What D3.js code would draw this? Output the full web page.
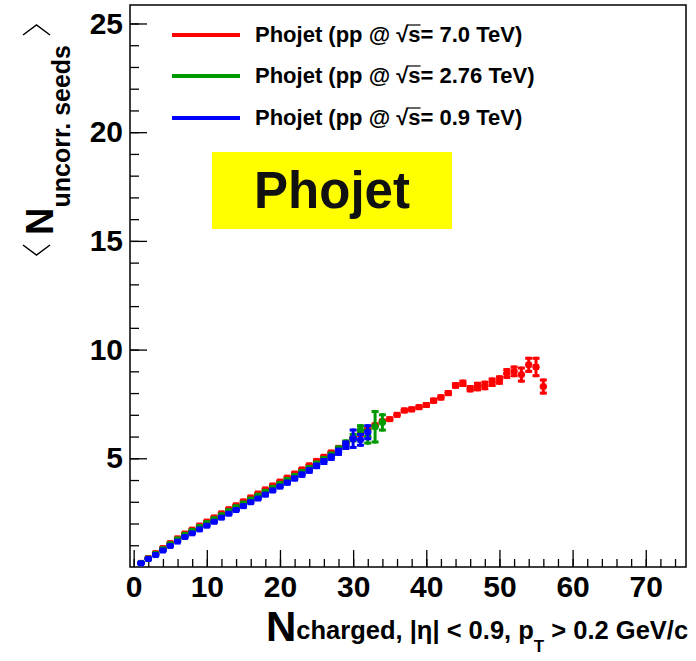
<!DOCTYPE html>
<html>
<head>
<meta charset="utf-8">
<title>Phojet seeds vs Nch</title>
<script src="https://d3js.org/d3.v7.min.js" charset="utf-8"></script>
<style>
    body { margin: 0; background: white; }
    svg text { font-family: "Liberation Sans", Arial, sans-serif; font-weight: bold; }
</style>
</head>
<body>
<script>
// values, one entry per multiplicity bin, starting at N = firstBin
var firstBin = 1;

var seeds7000 = [0.19,0.41,0.64,0.87,1.10,1.32,1.54,1.72,1.91,2.09,2.28,2.47,2.66,2.84,3.02,3.20,3.38,3.57,3.75,3.93,
                 4.11,4.30,4.49,4.68,4.88,5.07,5.27,5.48,5.70,5.92,6.12,6.35,6.52,6.70,6.80,7.00,7.20,7.25,7.35,7.45,
                 7.65,7.80,8.00,8.35,8.45,8.20,8.30,8.35,8.50,8.60,8.90,9.00,8.85,9.30,9.20,8.30];
var err7000   = [0.02,0.02,0.02,0.02,0.02,0.02,0.02,0.02,0.02,0.02,0.02,0.02,0.02,0.02,0.03,0.03,0.03,0.03,0.03,0.03,
                 0.03,0.03,0.03,0.03,0.04,0.04,0.04,0.04,0.04,0.04,0.05,0.05,0.05,0.05,0.05,0.05,0.06,0.06,0.06,0.06,
                 0.07,0.07,0.07,0.08,0.10,0.10,0.15,0.15,0.15,0.15,0.18,0.20,0.30,0.30,0.40,0.30];

var seeds2760 = [0.18,0.39,0.60,0.82,1.05,1.27,1.48,1.66,1.84,2.02,2.20,2.38,2.57,2.75,2.92,3.10,3.28,3.46,3.64,3.82,
                 4.00,4.18,4.37,4.55,4.75,4.95,5.15,5.40,5.65,5.95,6.30,6.00,6.45,6.65];
var err2760   = [0.02,0.02,0.02,0.02,0.02,0.02,0.02,0.02,0.02,0.03,0.03,0.03,0.03,0.03,0.03,0.04,0.04,0.04,0.05,0.05,
                 0.05,0.06,0.06,0.07,0.07,0.08,0.09,0.12,0.15,0.15,0.20,0.30,0.70,0.35];

var seeds900  = [0.17,0.37,0.55,0.76,0.97,1.17,1.38,1.55,1.73,1.90,2.08,2.27,2.45,2.62,2.80,2.98,3.15,3.33,3.52,3.70,
                 3.88,4.07,4.25,4.44,4.65,4.85,5.05,5.30,5.60,5.90,5.85,6.20];
var err900    = [0.02,0.02,0.02,0.02,0.02,0.02,0.02,0.02,0.03,0.03,0.03,0.03,0.03,0.03,0.04,0.04,0.04,0.05,0.05,0.05,
                 0.06,0.06,0.07,0.08,0.08,0.09,0.10,0.12,0.15,0.40,0.25,0.30];

var seriesNames  = ["Phojet (pp @ ", "Phojet (pp @ ", "Phojet (pp @ "];
var seriesEnergy = ["= 7.0 TeV)", "= 2.76 TeV)", "= 0.9 TeV)"];
var seriesColors = ["#ff0000", "#009a00", "#0000ff"];

var xMajor = [0, 10, 20, 30, 40, 50, 60, 70];
var xMinor = [0,2,4,6,8,10,12,14,16,18,20,22,24,26,28,30,32,34,36,38,40,42,44,46,48,50,52,54,56,58,60,62,64,66,68,70,72,74];
var yMajor = [5, 10, 15, 20, 25];
var yMinor = [1,2,3,4,5,6,7,8,9,10,11,12,13,14,15,16,17,18,19,20,21,22,23,24,25];

var width = 696;
var height = 661;
var frame = {left: 130, right: 686, top: 5, bottom: 567};

var x = d3.scaleLinear().domain([-0.5, 75.5]).range([frame.left, frame.right]);
var y = d3.scaleLinear().domain([0, 25.85]).range([frame.bottom, frame.top]);

var svg = d3.select("body")
    .append("svg")
    .attr("width", width)
    .attr("height", height);

// axes, ticks pointing inside the frame like ROOT
svg.append("g")
    .attr("transform", "translate(0," + frame.bottom + ")")
    .call(d3.axisBottom(x).tickValues(xMajor).tickSizeInner(-17).tickSizeOuter(0).tickPadding(9));
svg.append("g")
    .attr("transform", "translate(0," + frame.bottom + ")")
    .call(d3.axisBottom(x).tickValues(xMinor).tickSizeInner(-8).tickSizeOuter(0).tickFormat(""));

svg.append("g")
    .attr("transform", "translate(" + frame.left + ",0)")
    .call(d3.axisLeft(y).tickValues(yMajor).tickSizeInner(-17).tickSizeOuter(0).tickPadding(7));
svg.append("g")
    .attr("transform", "translate(" + frame.left + ",0)")
    .call(d3.axisLeft(y).tickValues(yMinor).tickSizeInner(-9).tickSizeOuter(0).tickFormat(""));

svg.selectAll(".domain").remove();
svg.selectAll(".tick line").attr("stroke", "#000").attr("stroke-width", 1.3);
svg.selectAll(".tick text")
    .attr("font-family", '"Liberation Sans", Arial, sans-serif')
    .attr("font-weight", "bold")
    .attr("font-size", 30)
    .attr("fill", "#000");

svg.append("rect")
    .attr("x", frame.left).attr("y", frame.top)
    .attr("width", frame.right - frame.left).attr("height", frame.bottom - frame.top)
    .attr("fill", "none").attr("stroke", "#000").attr("stroke-width", 1.5);

// data points: horizontal bin bar + vertical error bar with small caps + square marker
function drawSeries(vals, errs, color) {
    var pts = vals.map(function(v, i) { return {n: firstBin + i, v: v, e: errs[i]}; });
    var g = svg.append("g").attr("stroke", color).attr("stroke-width", 3).attr("fill", "none");
    g.selectAll("line.hbar").data(pts).enter().append("line")
        .attr("x1", function(d) { return x(d.n - 0.5); })
        .attr("x2", function(d) { return x(d.n + 0.5); })
        .attr("y1", function(d) { return y(d.v); })
        .attr("y2", function(d) { return y(d.v); });
    g.selectAll("line.vbar").data(pts).enter().append("line")
        .attr("x1", function(d) { return x(d.n); })
        .attr("x2", function(d) { return x(d.n); })
        .attr("y1", function(d) { return y(d.v - d.e) + 1.5; })
        .attr("y2", function(d) { return y(d.v + d.e) - 1.5; });
    [1, -1].forEach(function(s) {
        g.selectAll("line.cap" + s).data(pts).enter().append("line")
            .attr("x1", function(d) { return x(d.n) - 3.5; })
            .attr("x2", function(d) { return x(d.n) + 3.5; })
            .attr("y1", function(d) { return y(d.v + s * d.e); })
            .attr("y2", function(d) { return y(d.v + s * d.e); });
    });
    g.selectAll("rect").data(pts).enter().append("rect")
        .attr("x", function(d) { return x(d.n) - 3; })
        .attr("y", function(d) { return y(d.v) - 3; })
        .attr("width", 6).attr("height", 6)
        .attr("stroke", "none").attr("fill", color);
}
drawSeries(seeds7000, err7000, seriesColors[0]);
drawSeries(seeds2760, err2760, seriesColors[1]);
drawSeries(seeds900, err900, seriesColors[2]);

// legend
var legendY = [35, 76, 118];
seriesColors.forEach(function(c, i) {
    svg.append("line")
        .attr("x1", 172).attr("x2", 240)
        .attr("y1", legendY[i]).attr("y2", legendY[i])
        .attr("stroke", c).attr("stroke-width", 4);
    var t = svg.append("text")
        .attr("x", 255).attr("y", legendY[i] + 7)
        .attr("font-size", 22).attr("fill", "#000");
    t.append("tspan").text(seriesNames[i]);
    t.append("tspan").text("√");
    t.append("tspan").attr("class", "rad").text("s");
    t.append("tspan").text(seriesEnergy[i]);
    // overline for the square root
    var sNode = t.select(".rad").node();
    var full = t.node();
    var start = full.getSubStringLength(0, seriesNames[i].length + 1);
    var sw = sNode.getComputedTextLength();
    svg.append("line")
        .attr("x1", 255 + start - 1).attr("x2", 255 + start + sw)
        .attr("y1", legendY[i] - 10).attr("y2", legendY[i] - 10)
        .attr("stroke", "#000").attr("stroke-width", 1.2);
});

// yellow label
svg.append("rect")
    .attr("x", 212).attr("y", 152).attr("width", 240).attr("height", 77)
    .attr("fill", "#ffff00");
svg.append("text")
    .attr("x", 332).attr("y", 208)
    .attr("text-anchor", "middle")
    .attr("font-size", 51).attr("fill", "#111")
    .text("Phojet");

// x title
var xt = svg.append("text").attr("x", 266).attr("y", 641).attr("fill", "#000");
xt.append("tspan").attr("font-size", 42).text("N");
xt.append("tspan").attr("font-size", 25.5).attr("dy", -2).text("charged, |η| < 0.9, p");
xt.append("tspan").attr("font-size", 17).attr("dy", 13).text("T");
xt.append("tspan").attr("font-size", 25.5).attr("dy", -13).text(" > 0.2 GeV/c");

// y title, rotated
var yt = svg.append("g").attr("transform", "translate(53,258) rotate(-90)");
yt.append("path")
    .attr("d", "M13,-30L3,-16.5L13,-3")
    .attr("fill", "none").attr("stroke", "#000").attr("stroke-width", 1.5);
yt.append("path")
    .attr("d", "M223,-30L233,-16.5L223,-3")
    .attr("fill", "none").attr("stroke", "#000").attr("stroke-width", 1.5);
var ytt = yt.append("text").attr("x", 23).attr("y", 0).attr("fill", "#000");
ytt.append("tspan").attr("font-size", 38).text("N");
ytt.append("tspan").attr("font-size", 25).attr("dy", 17).text("uncorr. seeds");
</script>
</body>
</html>
